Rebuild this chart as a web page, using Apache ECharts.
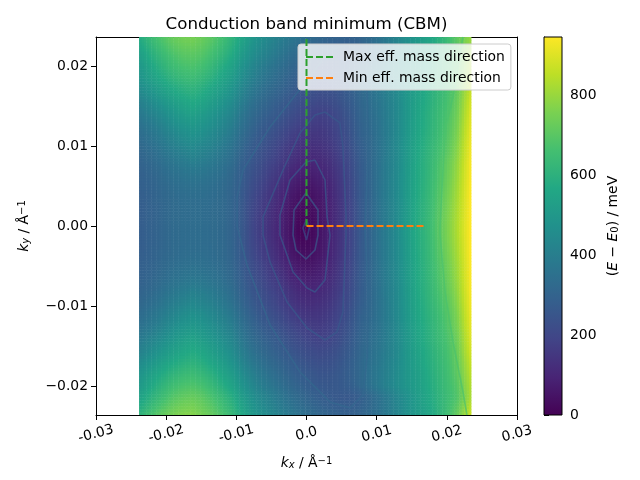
<!DOCTYPE html>
<html><head><meta charset="utf-8">
<style>html,body{margin:0;padding:0;background:#fff}#c{width:640px;height:480px}</style>
<script src="https://cdn.jsdelivr.net/npm/echarts@6/dist/echarts.min.js"></script></head>
<body><div id="c"></div>
<script>
const kxCells=[-0.02317,-0.02178,-0.02038,-0.01899,-0.01760,-0.01620,-0.01481,-0.01342,-0.01202,-0.01063,-0.00924,-0.00784,-0.00645,-0.00506,-0.00366,-0.00227,-0.00088,0.00052,0.00191,0.00331,0.00470,0.00609,0.00749,0.00888,0.01027,0.01167,0.01306,0.01445,0.01585,0.01724,0.01863,0.02003,0.02142,0.02281];
const kyCells=[0.02289,0.02141,0.01994,0.01846,0.01698,0.01550,0.01403,0.01255,0.01107,0.00960,0.00812,0.00664,0.00517,0.00369,0.00221,0.00074,-0.00074,-0.00221,-0.00369,-0.00517,-0.00664,-0.00812,-0.00960,-0.01107,-0.01255,-0.01403,-0.01550,-0.01698,-0.01846,-0.01994,-0.02141,-0.02289];
const energy=[
[585,635,675,710,730,735,715,685,645,600,540,490,450,420,390,362,340,318,302,290,284,282,295,320,352,390,430,470,508,545,590,640,700,770],
[550,600,640,675,697,702,687,655,618,575,512,465,427,397,366,338,316,295,278,268,262,265,278,312,350,390,435,475,518,558,600,640,680,778],
[520,570,610,645,667,675,657,623,583,542,482,436,396,366,340,315,294,274,260,260,268,284,314,350,387,425,465,497,525,565,607,647,692,792],
[500,540,577,610,632,642,622,592,552,515,458,410,372,345,320,295,275,258,247,250,262,284,315,350,382,418,458,498,530,570,612,652,705,805],
[460,497,532,565,588,602,582,550,517,480,425,380,345,320,298,275,253,236,228,234,252,278,312,345,375,412,452,498,538,578,617,657,715,820],
[422,458,492,525,552,570,550,520,487,452,398,353,322,298,275,250,230,215,207,217,238,268,305,337,368,406,448,498,545,582,624,664,725,838],
[392,422,455,490,518,535,514,487,457,425,372,330,300,278,254,228,207,190,180,193,222,255,298,330,362,403,447,500,550,590,632,672,735,850],
[362,388,420,456,482,500,484,460,430,398,350,310,278,255,230,202,182,168,163,178,210,245,292,322,358,400,446,502,553,592,635,682,748,862],
[342,365,394,425,452,470,455,433,405,375,328,290,258,233,206,178,155,145,148,167,197,235,285,315,355,400,447,504,558,598,640,690,758,872],
[322,342,368,395,418,435,422,405,380,352,308,270,240,212,182,152,130,122,130,150,185,222,275,310,354,400,449,508,562,605,650,700,772,882],
[308,326,348,370,388,405,394,380,360,335,292,255,225,195,168,135,110,103,112,134,172,212,268,306,355,402,450,510,568,610,660,715,785,892],
[298,312,332,350,362,372,367,357,342,320,280,240,210,175,148,107,88,82,93,120,160,205,263,303,355,403,452,512,570,612,667,725,795,898],
[293,305,322,337,347,352,350,342,330,310,272,228,195,160,125,85,65,60,76,105,152,198,260,302,355,405,453,514,572,616,672,733,803,903],
[288,300,315,328,336,340,340,334,325,305,265,217,180,145,108,65,45,42,62,95,145,193,257,300,355,405,455,516,575,620,680,742,812,908],
[285,298,312,325,333,335,335,330,322,303,262,208,170,133,95,55,28,30,54,90,140,190,255,300,355,405,455,518,578,622,685,750,820,912],
[285,298,312,325,333,335,335,330,322,305,262,205,165,128,90,48,15,22,50,88,140,190,255,300,355,405,455,520,580,625,690,755,825,915],
[285,298,312,325,333,335,335,330,322,305,262,205,165,128,90,48,13,20,50,88,140,190,255,300,355,405,455,520,580,625,690,755,825,915],
[285,298,312,325,333,335,335,330,322,303,262,208,170,133,95,55,26,28,54,90,140,190,255,300,355,405,455,518,578,622,685,750,820,912],
[288,300,315,328,336,340,340,334,325,305,265,217,180,145,108,65,43,40,62,95,145,193,257,300,355,405,455,516,575,620,680,742,812,908],
[293,305,322,337,347,352,350,342,330,310,272,228,195,160,125,85,63,58,76,105,152,198,260,302,355,405,453,514,572,616,672,733,803,903],
[298,312,332,350,362,372,367,357,342,320,280,240,210,175,148,107,88,82,93,120,160,205,263,303,355,403,452,512,570,612,667,725,795,898],
[308,326,348,370,388,405,394,380,360,335,292,255,225,195,168,135,110,103,112,134,172,212,268,306,355,402,450,510,568,610,660,715,785,892],
[322,342,368,395,418,435,422,405,380,352,308,270,240,212,182,152,130,122,130,150,185,222,275,310,354,400,449,508,562,605,650,700,772,882],
[342,365,394,425,452,470,455,433,405,375,328,290,258,233,206,178,155,145,148,167,197,235,285,315,355,400,447,504,558,598,640,690,758,872],
[362,388,420,456,482,500,484,460,430,398,350,310,278,255,230,202,182,168,163,178,210,245,292,322,358,400,446,502,553,592,635,682,748,862],
[392,422,455,490,518,535,514,487,457,425,372,330,300,278,254,228,207,190,180,193,222,255,298,330,362,403,447,500,550,590,632,672,735,850],
[422,458,492,525,552,570,550,520,487,452,398,353,322,298,275,250,230,215,207,217,238,268,305,337,368,406,448,498,545,582,624,664,725,838],
[460,497,532,565,588,602,582,550,517,480,425,380,345,320,298,275,253,236,228,234,252,278,312,345,375,412,452,498,538,578,617,657,715,820],
[500,540,577,610,632,642,622,592,552,515,458,410,372,345,320,295,275,258,247,250,262,284,315,350,382,418,458,498,530,570,612,652,705,805],
[525,575,615,650,672,680,662,628,587,545,485,438,398,368,342,316,295,275,260,258,265,280,312,348,385,422,462,495,525,565,607,647,690,790],
[560,610,650,690,712,722,702,668,628,585,520,470,430,400,368,340,318,296,278,266,260,262,276,310,347,388,432,473,518,558,600,642,680,780],
[605,655,695,730,750,755,730,700,658,615,550,495,455,425,393,365,342,320,302,290,282,280,293,318,350,388,430,475,513,548,595,645,705,810]
];
const contour1=[[0,0.00088],[0.0004,-0.00025],[0,-0.00175],[-0.0005,-0.00025],[0,0.00088]];
const contour2=[[-0.00007,0.004125],[0.00164,0.002],[0.00164,-0.00113],[0.00121,-0.003],[-0.00007,-0.004125],[-0.0015,-0.003],[-0.00192,-0.00113],[-0.00178,0.002],[-0.00007,0.004125]];
const contour3=[[0.00121,0.00825],[-0.00007,0.008],[-0.00235,0.00575],[-0.00378,0.00138],[-0.00378,-0.00113],[-0.00192,-0.00575],[0.00007,-0.00775],[0.00121,-0.00825],[0.00264,-0.00675],[0.00335,-0.00113],[0.00293,0.00113],[0.00264,0.00575],[0.00121,0.00825]];
const contour4=[[0.00264,0.01425],[0.00121,0.01388],[-0.00093,0.01163],[-0.00335,0.007],[-0.0062,0.00113],[-0.0062,-0.00113],[-0.0052,-0.0045],[-0.00278,-0.0095],[0.00007,-0.01275],[0.00264,-0.01425],[0.00435,-0.01325],[0.0052,-0.01075],[0.00563,-0.00113],[0.00563,0.00138],[0.0052,0.00988],[0.00477,0.01288],[0.00264,0.01425]];
const contour5=[[-0.00135,0.01663],[-0.0052,0.01238],[-0.00905,0.007],[-0.0099,0.00363],[-0.0099,0],[-0.00848,-0.00488],[-0.0052,-0.01238],[-0.00093,-0.01825],[0.00335,-0.022],[0.0062,-0.02275],[0.00805,-0.02113],[0.00862,-0.0165],[0.00876,-0.00825],[0.00834,0],[0.00876,0.00825],[0.00862,0.01663],[0.00805,0.02075],[0.0062,0.02275],[0.00335,0.022],[-0.00135,0.01663]];
const contour6=[[0.02287,-0.023625],[0.0223,-0.02075],[0.02088,-0.0145],[0.01974,-0.00825],[0.01903,-0.00113],[0.01903,0],[0.01974,0.012],[0.02088,0.01613],[0.02173,0.02075],[0.0223,0.023625]];
const maxDir=[[0,0],[0,0.0236]];
const minDir=[[0,0],[0.0168,0]];
const xTicks=[-0.03,-0.02,-0.01,0,0.01,0.02,0.03];
const xTickLabels=['-0.03','-0.02','-0.01','0.0','0.01','0.02','0.03'];
const yTicks=[-0.02,-0.01,0,0.01,0.02];
const yTickLabels=['\u22120.02','\u22120.01','0.00','0.01','0.02'];
const cbTicks=[0,200,400,600,800];
const cbMax=945;
const viridis=['#440154','#482475','#414487','#355f8d','#2a788e','#21918c','#22a884','#44bf70','#7ad151','#bddf26','#fde725'];
const font='DejaVu Sans';
const fs=13.9;
const cells=[];
kyCells.forEach((ky,r)=>kxCells.forEach((kx,c)=>cells.push([kx,ky,energy[r][c]])));
const stepX=kxCells[1]-kxCells[0], stepY=kyCells[0]-kyCells[1];
const nCols=kxCells.length, nRows=kyCells.length, shade=4;
function at(r,c){
 if(r<0) return 2*at(0,c)-at(1,c);
 if(r>=nRows) return 2*at(nRows-1,c)-at(nRows-2,c);
 if(c<0) return 2*energy[r][0]-energy[r][1];
 if(c>=nCols) return 2*energy[r][nCols-1]-energy[r][nCols-2];
 return energy[r][c];
}
function shadeColor(r,c,u,v){
 const c2=c+(u<0?-1:1), r2=r+(v<0?-1:1), a=Math.abs(u), b=Math.abs(v);
 const e=(1-a)*(1-b)*at(r,c)+a*(1-b)*at(r,c2)+(1-a)*b*at(r2,c)+a*b*at(r2,c2);
 return echarts.color.lerp(Math.max(0,Math.min(1,e/cbMax)),viridis);
}
const chart=echarts.init(document.getElementById('c'),null,{renderer:'canvas'});
const lim=0.023625;
const nameFs=13.9;
const rich={i:{fontStyle:'italic',fontFamily:font,fontSize:nameFs},n:{fontFamily:font,fontSize:nameFs},
 sub:{fontStyle:'italic',fontFamily:font,fontSize:10,verticalAlign:'bottom',lineHeight:10,padding:[7,0,0,0]},
 sub0:{fontFamily:font,fontSize:10,verticalAlign:'bottom',lineHeight:10,padding:[7,0,0,0]},
 sup:{fontFamily:font,fontSize:10,verticalAlign:'top',lineHeight:10,padding:[0,0,7,0]}};
const contourSeries=[[contour1,'#3b4a88'],[contour2,'#3a5a8c'],[contour3,'#38588c'],[contour4,'#37598c'],[contour5,'#33688e'],[contour6,'#4cc26c']].map(([d,col])=>({
 type:'line',data:d,xAxisIndex:0,yAxisIndex:0,symbol:'none',smooth:false,silent:true,z:3,animation:false,
 lineStyle:{color:col,width:1.6,opacity:0.7}}));
chart.setOption({
 animation:false,
 textStyle:{fontFamily:font},
 title:{text:'Conduction band minimum (CBM)',left:301.5,top:11,textAlign:'center',textStyle:{fontFamily:font,fontSize:16.67,fontWeight:'normal',color:'#000'}},
 grid:[{left:96,top:37,width:421,height:378,containLabel:false},{left:544,top:37,width:18,height:378}],
 legend:{show:true,left:298,top:44,data:['Max eff. mass direction','Min eff. mass direction'],orient:'vertical',
  padding:[6,6,5,7],itemWidth:30,itemHeight:10,itemGap:7,backgroundColor:'rgba(255,255,255,0.8)',borderColor:'#ccc',borderWidth:1,borderRadius:3,
  itemStyle:{opacity:0},
  textStyle:{fontFamily:font,fontSize:fs,color:'#000',padding:[0,0,0,2]}},
 xAxis:[
  {type:'value',gridIndex:0,min:-0.03,max:0.03,interval:0.01,position:'bottom',
   axisLine:{onZero:false,lineStyle:{color:'#000',width:1}},axisTick:{length:5,lineStyle:{color:'#000',width:1}},splitLine:{show:false},
   axisLabel:{rotate:15,margin:19,align:'center',verticalAlign:'middle',fontFamily:font,fontSize:fs,color:'#000',hideOverlap:false,showMinLabel:true,showMaxLabel:true,
    formatter:v=>{const i=xTicks.findIndex(t=>Math.abs(t-v)<1e-6);return i<0?'':xTickLabels[i];}},
   name:'{i|k}{sub|x}{n| / Å}{sup|\u22121}',nameLocation:'middle',nameGap:41,nameTextStyle:{rich,fontFamily:font}},
  {type:'value',gridIndex:0,min:-0.03,max:0.03,position:'top',axisLine:{onZero:false,lineStyle:{color:'#000',width:1}},axisTick:{show:false},axisLabel:{show:false},splitLine:{show:false}},
  {type:'value',gridIndex:1,min:0,max:1,show:false}
 ],
 yAxis:[
  {type:'value',gridIndex:0,min:-lim,max:lim,position:'left',
   axisLine:{onZero:false,lineStyle:{color:'#000',width:1}},axisTick:{length:5,lineStyle:{color:'#000',width:1},customValues:yTicks},splitLine:{show:false},
   axisLabel:{customValues:yTicks,margin:8,fontFamily:font,fontSize:fs,color:'#000',
    formatter:v=>{const i=yTicks.findIndex(t=>Math.abs(t-v)<1e-6);return i<0?'':yTickLabels[i];}},
   name:'{i|k}{sub|y}{n| / Å}{sup|\u22121}',nameLocation:'middle',nameGap:64,nameRotate:90,nameTextStyle:{rich,fontFamily:font}},
  {type:'value',gridIndex:0,min:-lim,max:lim,position:'right',axisLine:{onZero:false,lineStyle:{color:'#000',width:1}},axisTick:{show:false},axisLabel:{show:false},splitLine:{show:false}},
  {type:'value',gridIndex:1,min:0,max:cbMax,position:'right',
   axisLine:{lineStyle:{color:'#000',width:1}},axisTick:{length:5,lineStyle:{color:'#000',width:1},customValues:cbTicks},splitLine:{show:false},
   axisLabel:{customValues:cbTicks,margin:8,fontFamily:font,fontSize:fs,color:'#000'},
   name:'({i|E} \u2212 {i|E}{sub0|0}{n|) / meV}',nameLocation:'middle',nameGap:44,nameRotate:90,nameTextStyle:{rich,fontFamily:font,fontSize:nameFs}}
 ],
 series:[
  {type:'custom',name:'E',xAxisIndex:0,yAxisIndex:0,data:cells,encode:{x:0,y:1},z:1,silent:true,clip:true,progressive:0,
   renderItem:(p,api)=>{
    const r=Math.floor(p.dataIndex/nCols), c=p.dataIndex%nCols;
    const pt=api.coord([api.value(0),api.value(1)]);
    const s=api.size([stepX,stepY]);
    const sw=s[0]/shade, sh=s[1]/shade, children=[];
    for(let i=0;i<shade;i++) for(let j=0;j<shade;j++){
     const u=(j+0.5)/shade-0.5, v=(i+0.5)/shade-0.5, col=shadeColor(r,c,u,v);
     children.push({type:'rect',shape:{x:pt[0]-s[0]/2+j*sw,y:pt[1]-s[1]/2+i*sh,width:sw+(j<shade-1||c<nCols-1?0.5:0),height:sh+(i<shade-1||r<nRows-1?0.5:0)},style:{fill:col}});
    }
    return {type:'group',children};
   }},
  ...contourSeries,
  {type:'line',name:'Max eff. mass direction',data:maxDir,xAxisIndex:0,yAxisIndex:0,symbol:'none',z:4,lineStyle:{color:'#2ca02c',width:2,type:[7,3]},itemStyle:{color:'#2ca02c'}},
  {type:'line',name:'Min eff. mass direction',data:minDir,xAxisIndex:0,yAxisIndex:0,symbol:'none',z:4,lineStyle:{color:'#ff7f0e',width:2,type:[7,3]},itemStyle:{color:'#ff7f0e'}},
  {type:'custom',name:'colorbar',xAxisIndex:2,yAxisIndex:2,data:[[0,cbMax]],silent:true,z:1,
   renderItem:(p,api)=>{
    const a=api.coord([0,0]),b=api.coord([1,cbMax]);
    const stops=viridis.map((c,i)=>({offset:1-i/(viridis.length-1),color:c}));
    return {type:'rect',shape:{x:a[0],y:b[1],width:b[0]-a[0],height:a[1]-b[1]},
     style:{fill:new echarts.graphic.LinearGradient(0,0,0,1,stops),stroke:'#000',lineWidth:1}};
   }}
 ]
});
</script></body></html>
